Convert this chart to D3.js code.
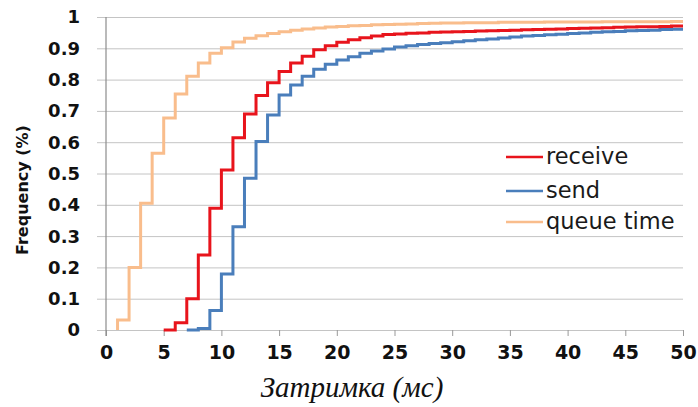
<!DOCTYPE html>
<html>
<head>
<meta charset="utf-8">
<script src="https://cdn.jsdelivr.net/npm/d3@7"></script>
<style>
  html, body { margin: 0; padding: 0; background: #fff; }
  svg { display: block; }
</style>
</head>
<body>
<div id="chart"></div>
<script>
// ---- data (latency in ms, cumulative frequency reached at that ms) ----
const xTicks = [0, 5, 10, 15, 20, 25, 30, 35, 40, 45, 50];
const yTicks = [0, 0.1, 0.2, 0.3, 0.4, 0.5, 0.6, 0.7, 0.8, 0.9, 1];
const yTickLabels = ["0", "0.1", "0.2", "0.3", "0.4", "0.5", "0.6", "0.7", "0.8", "0.9", "1"];
const seriesNames = ["receive", "send", "queue time"];
const seriesColors = ["#e8141c", "#4a7ebb", "#f9bd8c"];

const receiveStart = 5;
const receiveValues = [0, 0, 0.023, 0.1, 0.24, 0.389, 0.511, 0.614, 0.69, 0.749,
  0.79, 0.826, 0.853, 0.875, 0.895, 0.908, 0.919, 0.927, 0.934, 0.939,
  0.944, 0.946, 0.948, 0.949, 0.951, 0.952, 0.953, 0.954, 0.955, 0.956,
  0.957, 0.958, 0.959, 0.960, 0.961, 0.962, 0.963, 0.964, 0.965, 0.966,
  0.967, 0.968, 0.969, 0.969, 0.970, 0.971];

const sendStart = 7;
const sendValues = [0, 0, 0.005, 0.062, 0.179, 0.33, 0.485, 0.602, 0.687, 0.751,
  0.783, 0.811, 0.833, 0.849, 0.863, 0.873, 0.884, 0.891, 0.898, 0.904,
  0.908, 0.912, 0.915, 0.918, 0.921, 0.924, 0.927, 0.93, 0.933, 0.936,
  0.939, 0.941, 0.943, 0.945, 0.947, 0.949, 0.951, 0.953, 0.954, 0.956,
  0.957, 0.958, 0.96, 0.961];

const queueStart = 1;
const queueValues = [0, 0.032, 0.2, 0.405, 0.565, 0.677, 0.754, 0.811, 0.853, 0.884,
  0.902, 0.92, 0.932, 0.94, 0.947, 0.953, 0.958, 0.962, 0.965, 0.968,
  0.97, 0.972, 0.973, 0.975, 0.976, 0.977, 0.978, 0.979, 0.98, 0.981,
  0.981, 0.982, 0.982, 0.982, 0.983, 0.983, 0.983, 0.983, 0.984, 0.984,
  0.984, 0.984, 0.984, 0.985, 0.985, 0.985, 0.985, 0.985, 0.985, 0.986];

const xTitle = "Затримка (мс)";
const yTitle = "Frequency (%)";

// ---- layout ----
const W = 698, H = 407;
const plot = { left: 106, right: 683, top: 17, bottom: 330 };

const svg = d3.select("#chart").append("svg").attr("width", W).attr("height", H);

const x = d3.scaleLinear().domain([0, 50]).range([plot.left, plot.right]);
const y = d3.scaleLinear().domain([0, 1]).range([plot.bottom, plot.top]);

// gridlines
svg.append("g")
  .attr("transform", `translate(${plot.left},0)`)
  .call(d3.axisLeft(y).tickValues(yTicks).tickSize(-(plot.right - plot.left)).tickFormat(""))
  .call(g => g.select(".domain").remove())
  .call(g => g.selectAll(".tick line").attr("stroke", "#c4c4c4").attr("stroke-width", 1)
      .attr("x1", -9).attr("x2", plot.right - plot.left));

// y tick labels
svg.append("g")
  .selectAll("text")
  .data(yTicks)
  .join("text")
  .attr("x", 80)
  .attr("y", d => y(d))
  .attr("dy", "0.36em")
  .attr("text-anchor", "end")
  .attr("font-family", "DejaVu Sans")
  .attr("font-weight", "bold")
  .attr("font-size", 18)
  .attr("fill", "#111")
  .text((d, i) => yTickLabels[i]);

// x axis
const xAxis = svg.append("g")
  .attr("transform", `translate(0,${plot.bottom})`)
  .call(d3.axisBottom(x).tickValues(xTicks).tickSize(6).tickPadding(10).tickFormat(d3.format("d")));
xAxis.select(".domain").remove();
xAxis.selectAll(".tick line").attr("stroke", "#999");
xAxis.selectAll(".tick text")
  .attr("font-family", "DejaVu Sans")
  .attr("font-weight", "bold")
  .attr("font-size", 19)
  .attr("fill", "#111");

// y axis line
svg.append("line")
  .attr("x1", x(0)).attr("x2", x(0))
  .attr("y1", y(1)).attr("y2", plot.bottom + 6)
  .attr("stroke", "#8c8c8c").attr("stroke-width", 1.2);

// series
function pts(start, vals) {
  return vals.map((v, i) => [start + i, v]);
}
const series = [
  { name: seriesNames[0], color: seriesColors[0], data: pts(receiveStart, receiveValues) },
  { name: seriesNames[1], color: seriesColors[1], data: pts(sendStart, sendValues) },
  { name: seriesNames[2], color: seriesColors[2], data: pts(queueStart, queueValues) }
];

const line = d3.line()
  .x(d => x(d[0]))
  .y(d => y(d[1]))
  .curve(d3.curveStepBefore);

// draw order: queue, send, receive on top
[series[2], series[1], series[0]].forEach(s => {
  svg.append("path")
    .datum(s.data)
    .attr("fill", "none")
    .attr("stroke", s.color)
    .attr("stroke-width", 3)
    .attr("stroke-linejoin", "miter")
    .attr("d", line);
});

// legend
const legendY = [157, 191, 222];
const lg = svg.append("g");
series.forEach((s, i) => {
  lg.append("line")
    .attr("x1", 506).attr("x2", 543)
    .attr("y1", legendY[i]).attr("y2", legendY[i])
    .attr("stroke", s.color).attr("stroke-width", 2.5);
  lg.append("text")
    .attr("x", 546)
    .attr("y", legendY[i])
    .attr("dy", "0.3em")
    .attr("font-family", "DejaVu Sans")
    .attr("font-size", 22.5)
    .attr("fill", "#1a1a1a")
    .text(s.name);
});

// axis titles
svg.append("text")
  .attr("x", 352)
  .attr("y", 397)
  .attr("text-anchor", "middle")
  .attr("font-family", "Liberation Serif")
  .attr("font-style", "italic")
  .attr("font-size", 29)
  .attr("fill", "#111")
  .text(xTitle);

svg.append("text")
  .attr("transform", "translate(28,190) rotate(-90)")
  .attr("text-anchor", "middle")
  .attr("font-family", "DejaVu Sans")
  .attr("font-weight", "bold")
  .attr("font-size", 16)
  .attr("fill", "#111")
  .text(yTitle);
</script>
</body>
</html>
